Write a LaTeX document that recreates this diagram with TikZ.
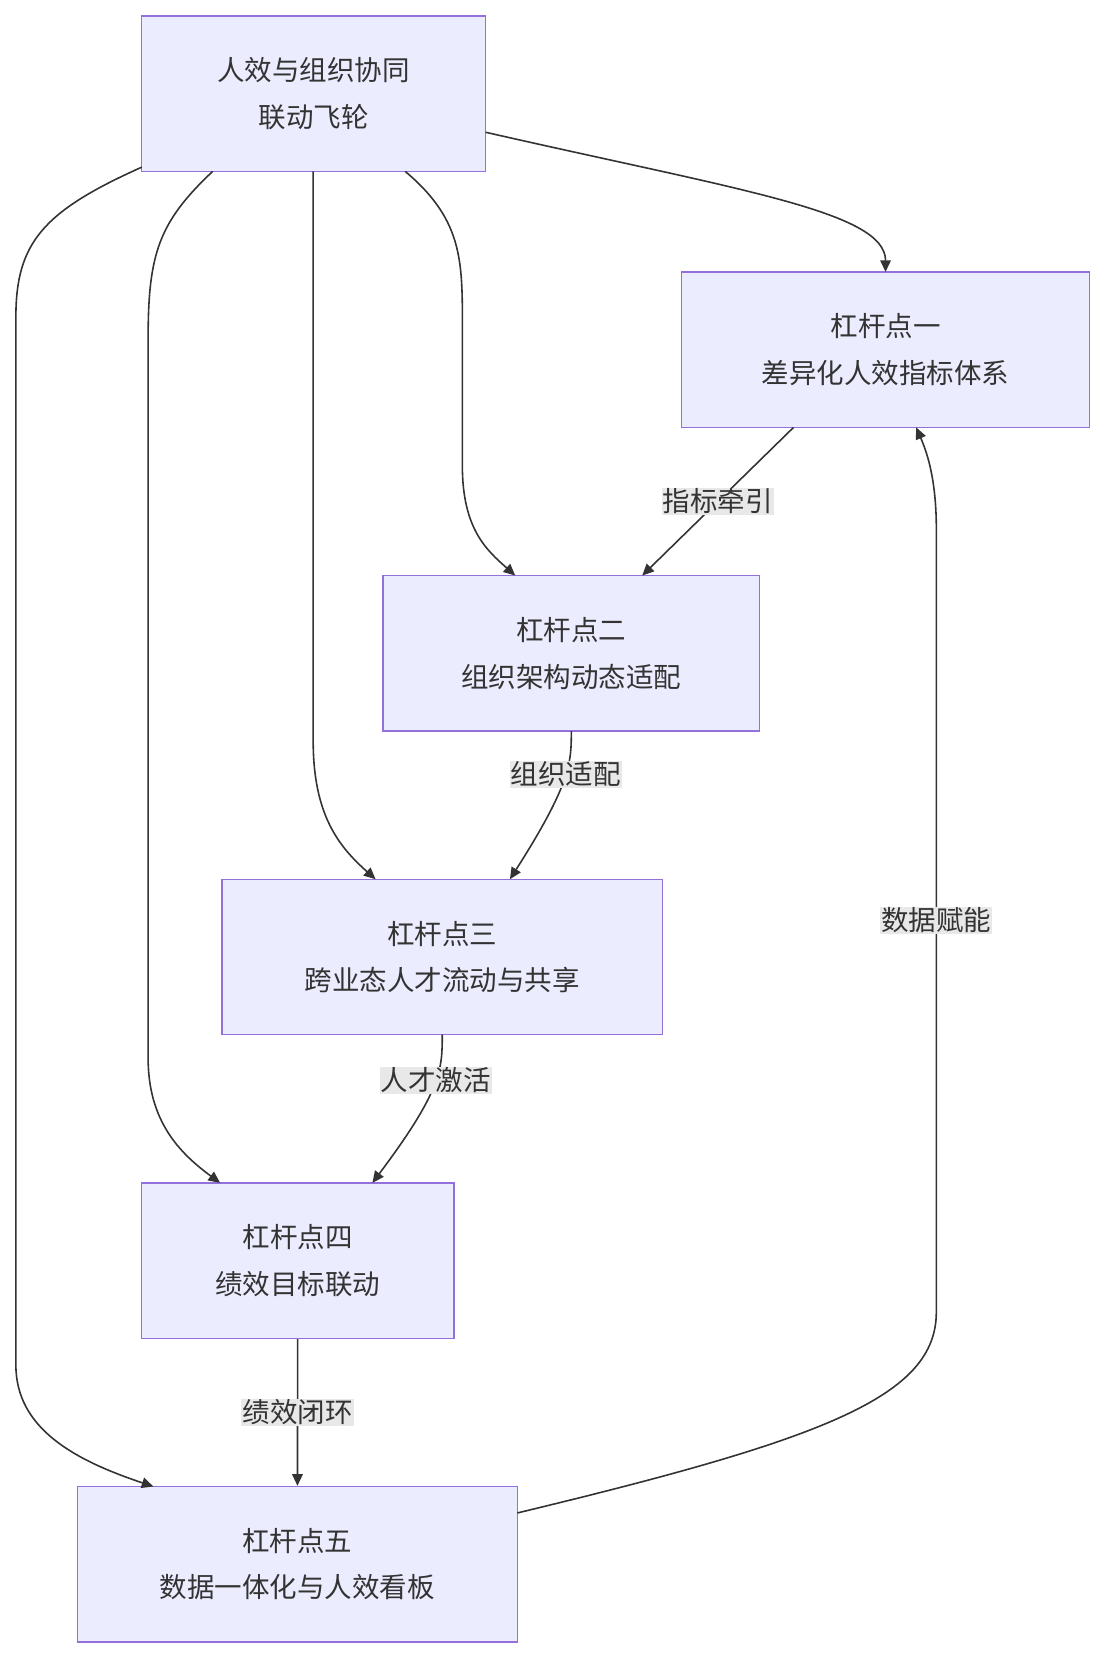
\documentclass[tikz,border=0pt]{standalone}
\usepackage{fontspec}
\setmainfont{Noto Sans CJK SC}
\usetikzlibrary{arrows.meta}
\definecolor{boxfill}{HTML}{ECECFF}
\definecolor{boxline}{HTML}{9370DB}
\definecolor{txt}{HTML}{333333}
\definecolor{lblbg}{HTML}{E8E8E8}
\begin{document}
\begin{tikzpicture}[x=1pt,y=-1pt,
  box/.style={draw=boxline,fill=boxfill,line width=1.3pt,align=center,text=txt,font=\fontsize{26}{44}\selectfont,inner sep=0pt},
  conn/.style={draw=txt,line width=1.5pt,-{Triangle[length=11pt,width=10pt]}},
  lbl/.style={fill=lblbg,text=txt,font=\fontsize{26}{30}\selectfont,inner sep=1pt}]
\useasboundingbox (0,0) rectangle (1045,1569);
\node[box,minimum width=325pt,minimum height=147pt] (A) at (296.5,88.5) {人效与组织协同\\联动飞轮};
\node[box,minimum width=386pt,minimum height=147pt] (B) at (837,330.5) {杠杆点一\\差异化人效指标体系};
\node[box,minimum width=356pt,minimum height=147pt] (C) at (540,617.5) {杠杆点二\\组织架构动态适配};
\node[box,minimum width=416pt,minimum height=147pt] (D) at (418,904.5) {杠杆点三\\跨业态人才流动与共享};
\node[box,minimum width=295pt,minimum height=147pt] (E) at (281.5,1191.5) {杠杆点四\\绩效目标联动};
\node[box,minimum width=416pt,minimum height=147pt] (F) at (281,1478.5) {杠杆点五\\数据一体化与人效看板};
\coordinate (a1) at (459,125);
\coordinate (a2) at (383,162);
\coordinate (a3) at (296,162);
\coordinate (a4) at (201,162);
\coordinate (a5) at (134,158);
\draw[conn] (a1) .. controls (700,180) and (837,200) .. (837,257);
\draw[conn] (a2) .. controls (440,210) and (437,250) .. (437,320) -- (437,440) .. controls (437,500) and (460,520) .. (487,544);
\draw[conn] (a3) -- (296,700) .. controls (296,770) and (320,800) .. (355,831);
\draw[conn] (a4) .. controls (150,210) and (140,240) .. (140,320) -- (140,1000) .. controls (140,1060) and (170,1090) .. (208,1118);
\draw[conn] (a5) .. controls (40,200) and (15,230) .. (15,300) -- (15,1290) .. controls (15,1350) and (70,1380) .. (145,1405);
\draw[conn] (750,404) -- node[lbl]{指标牵引} (607,544);
\draw[conn] (540,691) .. controls (540,720) and (540,740) .. node[lbl,pos=0.45]{组织适配} (482,831);
\draw[conn] (418,978) .. controls (418,1010) and (418,1030) .. node[lbl,pos=0.45]{人才激活} (352,1118);
\draw[conn] (E) -- node[lbl]{绩效闭环} (F);
\draw[conn] (489,1430) .. controls (780,1360) and (885,1320) .. (885,1240) -- node[lbl,pos=0.5]{数据赋能} (885,500) .. controls (885,450) and (875,425) .. (866,404);
\end{tikzpicture}
\end{document}
